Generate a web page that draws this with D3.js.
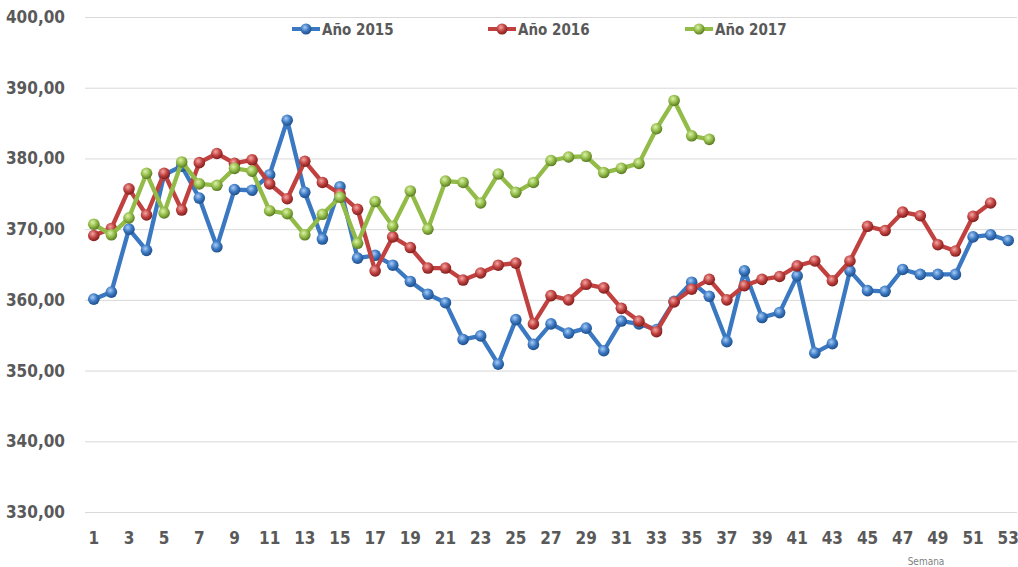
<!DOCTYPE html>
<html>
<head>
<meta charset="utf-8">
<script src="https://cdn.jsdelivr.net/npm/d3@7"></script>
<style>
  body { margin: 0; background: #fff; }
  svg { display: block; }
  .tick text { fill: #595959; }
</style>
</head>
<body>
<div id="chart"></div>
<script>
const weeks = d3.range(1, 54)
const yTicks = [330, 340, 350, 360, 370, 380, 390, 400]

const serie2015 = [360.1, 361.1, 370.0, 367.0, 377.7, 378.9, 374.4, 367.5, 375.6, 375.5,
  377.7, 385.4, 375.2, 368.6, 376.0, 365.9, 366.3, 364.9, 362.6, 360.8,
  359.6, 354.4, 354.9, 350.9, 357.2, 353.7, 356.6, 355.3, 356.0, 352.8,
  357.0, 356.6, 355.8, 359.8, 362.5, 360.5, 354.1, 364.1, 357.5, 358.2,
  363.4, 352.5, 353.8, 364.1, 361.3, 361.2, 364.3, 363.6, 363.6, 363.6,
  368.9, 369.2, 368.4]

const serie2016 = [369.1, 370.1, 375.7, 372.0, 377.9, 372.7, 379.4, 380.7, 379.3, 379.8,
  376.4, 374.3, 379.6, 376.6, 375.0, 372.8, 364.1, 368.9, 367.4, 364.5,
  364.5, 362.8, 363.8, 364.9, 365.2, 356.6, 360.6, 360.0, 362.2, 361.7,
  358.8, 357.0, 355.5, 359.7, 361.5, 362.9, 360.0, 362.0, 362.9, 363.3,
  364.8, 365.5, 362.7, 365.5, 370.4, 369.8, 372.4, 371.9, 367.8, 366.9,
  371.8, 373.7]

const serie2017 = [370.7, 369.2, 371.6, 377.9, 372.3, 379.5, 376.4, 376.2, 378.6, 378.2,
  372.6, 372.2, 369.2, 372.1, 374.5, 368.0, 373.9, 370.4, 375.4, 370.0,
  376.8, 376.6, 373.7, 377.8, 375.2, 376.6, 379.7, 380.2, 380.3, 378.0,
  378.6, 379.3, 384.2, 388.2, 383.2, 382.7]

const series = [
  { name: 'Año 2015', values: serie2015, color: '#3b78c2', light: '#a9cdf5', dark: '#1f4f8a' },
  { name: 'Año 2016', values: serie2016, color: '#c0413f', light: '#f3a6a4', dark: '#7e1f1d' },
  { name: 'Año 2017', values: serie2017, color: '#92bb48', light: '#dcf2a8', dark: '#5a7a22' }
]

const width = 1018
const height = 567
const margin = { top: 17, right: 1, bottom: 55, left: 85 }

const svg = d3.select('#chart').append('svg')
  .attr('width', width)
  .attr('height', height)

// sphere-like marker shading, one gradient per series
const defs = svg.append('defs')
series.forEach((s, i) => {
  let g = defs.append('radialGradient')
    .attr('id', `ball-${i}`)
    .attr('cx', '40%').attr('cy', '35%').attr('r', '65%')
  g.append('stop').attr('offset', '0%').attr('stop-color', s.light)
  g.append('stop').attr('offset', '55%').attr('stop-color', s.color)
  g.append('stop').attr('offset', '100%').attr('stop-color', s.dark)
})

const x = d3.scaleBand()
  .domain(weeks)
  .range([margin.left, width - margin.right])

const y = d3.scaleLinear()
  .domain([330, 400])
  .range([height - margin.bottom, margin.top])

// title sits above the picture in the reference, only descenders peek in
svg.append('text')
  .attr('x', 1010).attr('y', -3)
  .attr('text-anchor', 'end')
  .attr('font-family', 'DejaVu Sans Condensed, sans-serif')
  .attr('font-weight', 'bold')
  .attr('font-size', 16)
  .attr('fill', '#404040')
  .text('Precio medio ponderado (€/100 kg)')

// gridlines + y labels
svg.append('g')
  .attr('transform', `translate(${margin.left},0)`)
  .call(d3.axisLeft(y)
    .tickValues(yTicks)
    .tickSize(-(width - margin.left - margin.right))
    .tickPadding(20)
    .tickFormat(d => d3.format('.2f')(d).replace('.', ',')))
  .call(g => g.select('.domain').remove())
  .call(g => g.selectAll('.tick line').attr('stroke', '#d9d9d9'))
  .call(g => g.selectAll('.tick text')
    .attr('font-family', 'DejaVu Sans Condensed, sans-serif')
    .attr('font-weight', 'bold')
    .attr('font-size', 17))

// x labels, every other week
svg.append('g')
  .attr('transform', `translate(0,${height - margin.bottom})`)
  .call(d3.axisBottom(x)
    .tickValues(weeks.filter(w => w % 2 === 1))
    .tickSize(0)
    .tickPadding(20))
  .call(g => g.select('.domain').remove())
  .call(g => g.selectAll('.tick text')
    .attr('font-family', 'DejaVu Sans Condensed, sans-serif')
    .attr('font-weight', 'bold')
    .attr('font-size', 17))

svg.append('text')
  .attr('x', 926).attr('y', 565)
  .attr('text-anchor', 'middle')
  .attr('font-family', 'DejaVu Sans Condensed, sans-serif')
  .attr('font-size', 10)
  .attr('fill', '#7f7f7f')
  .text('Semana')

const cx = i => x(weeks[i]) + x.bandwidth() / 2

const line = d3.line()
  .x((d, i) => cx(i))
  .y(d => y(d))

series.forEach((s, i) => {
  let g = svg.append('g')
  g.append('path')
    .datum(s.values)
    .attr('fill', 'none')
    .attr('stroke', s.color)
    .attr('stroke-width', 4.3)
    .attr('stroke-linejoin', 'round')
    .attr('d', line)
  g.selectAll('circle')
    .data(s.values)
    .join('circle')
      .attr('cx', (d, j) => cx(j))
      .attr('cy', d => y(d))
      .attr('r', 5.8)
      .attr('fill', `url(#ball-${i})`)
})

// legend
const legendX = [292, 488, 685]
const legend = svg.append('g')
series.forEach((s, i) => {
  let lg = legend.append('g').attr('transform', `translate(${legendX[i]},29)`)
  lg.append('line')
    .attr('x1', 0).attr('x2', 28)
    .attr('stroke', s.color).attr('stroke-width', 4)
  lg.append('circle')
    .attr('cx', 14).attr('r', 5.5)
    .attr('fill', `url(#ball-${i})`)
  lg.append('text')
    .attr('x', 30).attr('y', 5.5)
    .attr('font-family', 'DejaVu Sans Condensed, sans-serif')
    .attr('font-weight', 'bold')
    .attr('font-size', 15)
    .attr('fill', '#595959')
    .text(s.name)
})
</script>
</body>
</html>
